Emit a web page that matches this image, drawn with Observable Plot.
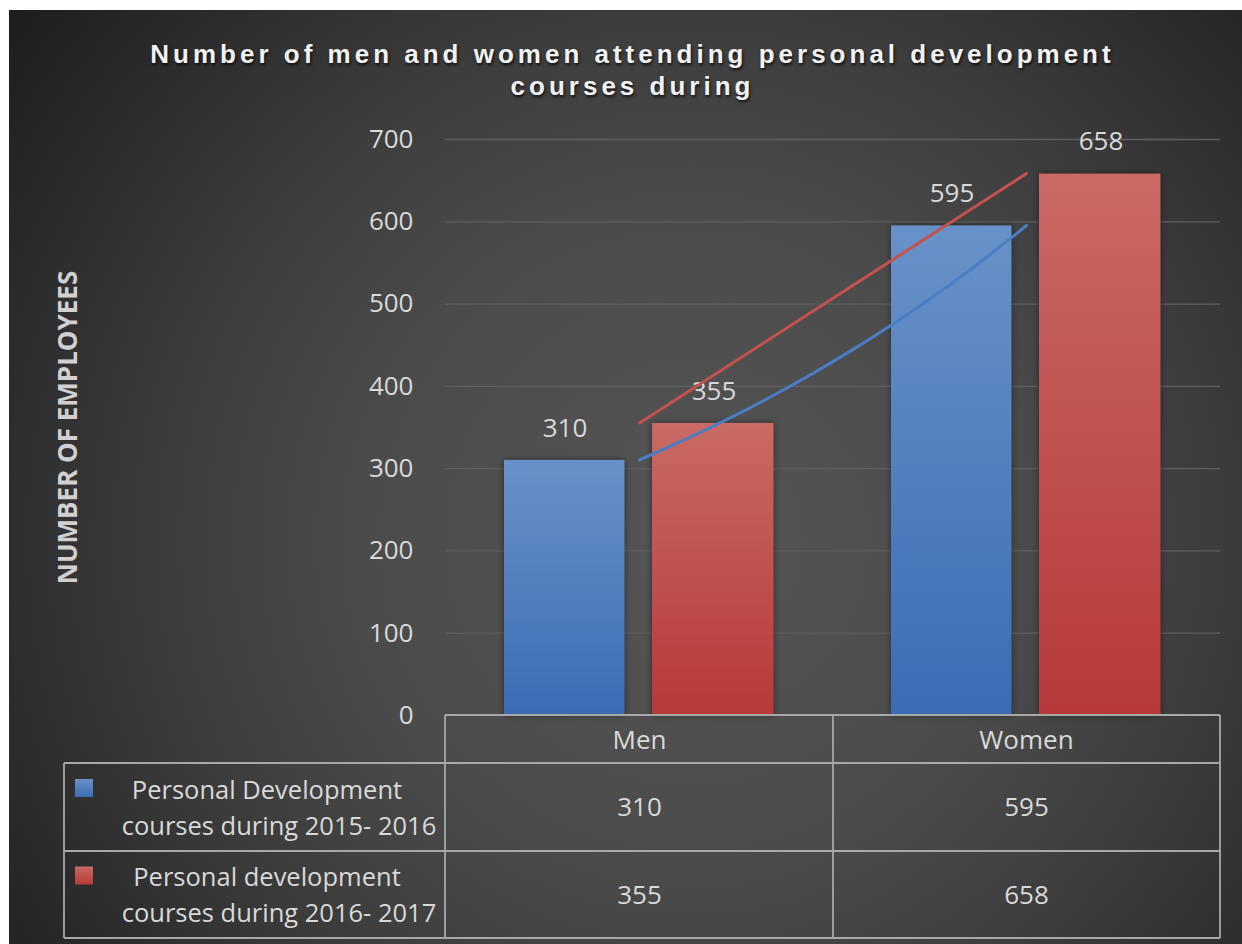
<!DOCTYPE html>
<html>
<head>
<meta charset="utf-8">
<script src="https://cdn.jsdelivr.net/npm/d3@7"></script>
<script src="https://cdn.jsdelivr.net/npm/@observablehq/plot@0.6"></script>
<style>
  body { margin: 0; background: #ffffff; }
  #wrap {
    position: absolute; left: 9px; top: 10px; width: 1233px; height: 934px; overflow: hidden;
    background: radial-gradient(circle farthest-corner at 681px 530px, #555555 0%, #4b4b4b 38%, #3d3d3d 60%, #2d2d2d 80%, #1d1d1d 100%);
  }
  #title {
    box-sizing: border-box; height: 100px; padding-top: 28px; padding-left: 14px; width: 100%;
    text-align: center; font: bold 26px "Liberation Sans", Arial, sans-serif; letter-spacing: 4px;
    line-height: 32px; color: #f2f2f2; text-shadow: 1px 2px 3px rgba(0,0,0,0.75);
  }
  #title span { display: inline-block; max-width: 1010px; }
  #chart svg { display: block; }
  #chart g[aria-label="bar"] rect { filter: drop-shadow(0px 0px 3px rgba(0,0,0,0.45)); }
</style>
</head>
<body>
<div id="wrap">
  <div id="title"><span>Number of men and women attending personal development courses during</span></div>
  <div id="chart"></div>
</div>
<script>
// ---- data ----
const categories = ["Men", "Women"];
const seriesNames = ["Personal Development courses during 2015- 2016", "Personal development courses during 2016- 2017"];
const legendLines = [["Personal Development", "courses during 2015- 2016"], ["Personal development", "courses during 2016- 2017"]];
const values2015 = [310, 595];
const values2016 = [355, 658];
const yTicks = [0, 100, 200, 300, 400, 500, 600, 700];
const yLabel = "NUMBER OF EMPLOYEES";
const titleText = "Number of men and women attending personal development courses during";

const rows = categories.map((c, i) => ({category: c, v2015: values2015[i], v2016: values2016[i]}));
const seriesValues = [values2015, values2016];

const BLUE_LINE = "#4a7ec4", RED_LINE = "#c4524f";
const TEXT = "#d9d9d9", BORDER = "#a8a8a8";

function defsMark() {
  const g = d3.create("svg:g");
  const defs = g.append("defs");
  const gb = defs.append("linearGradient").attr("id", "gBlue").attr("x1", 0).attr("y1", 0).attr("x2", 0).attr("y2", 1);
  gb.append("stop").attr("offset", "0%").attr("stop-color", "#6991c9");
  gb.append("stop").attr("offset", "100%").attr("stop-color", "#3b6db5");
  const gr = defs.append("linearGradient").attr("id", "gRed").attr("x1", 0).attr("y1", 0).attr("x2", 0).attr("y2", 1);
  gr.append("stop").attr("offset", "0%").attr("stop-color", "#c96a65");
  gr.append("stop").attr("offset", "100%").attr("stop-color", "#b73939");
  return g.node();
}

function trendMark(index, scales) {
  const x = scales.x, y = scales.y;
  const bw = x.bandwidth ? x.bandwidth() : 0;
  const cx = c => x(c) + bw / 2;
  const x0 = cx(categories[0]), x1 = cx(categories[1]);
  const g = d3.create("svg:g").attr("fill", "none").attr("stroke-width", 3).attr("stroke-linecap", "round");
  // exponential trendline for 2015-2016 series
  const [a, b] = values2015;
  const pts = d3.range(0, 1.0001, 0.025).map(t => [x0 + t * (x1 - x0), y(a * Math.pow(b / a, t))]);
  g.append("path").attr("d", d3.line()(pts)).attr("stroke", BLUE_LINE);
  // linear trendline for 2016-2017 series
  const [c, d] = values2016;
  g.append("path").attr("d", d3.line()([[x0, y(c)], [x1, y(d)]])).attr("stroke", RED_LINE);
  return g.node();
}

function tableMark(index, scales, values, dims) {
  const {width, height, marginLeft, marginRight, marginBottom} = dims;
  const x = scales.x;
  const bw = x.bandwidth();
  const left = marginLeft, right = width - marginRight;
  const top = height - marginBottom;
  const legendLeft = 55;
  const yRows = [top, top + 48, top + 136, top + 223];
  const g = d3.create("svg:g");
  const lines = g.append("g").attr("stroke", BORDER).attr("stroke-width", 1.8).attr("fill", "none");
  lines.append("line").attr("x1", left).attr("x2", right).attr("y1", yRows[0]).attr("y2", yRows[0]);
  for (let i = 1; i < 4; i++) lines.append("line").attr("x1", legendLeft).attr("x2", right).attr("y1", yRows[i]).attr("y2", yRows[i]);
  lines.append("line").attr("x1", legendLeft).attr("x2", legendLeft).attr("y1", yRows[1]).attr("y2", yRows[3]);
  const vx = [left, x(categories[1]), right];
  vx.forEach(v => lines.append("line").attr("x1", v).attr("x2", v).attr("y1", yRows[0]).attr("y2", yRows[3]));
  const txt = g.append("g").attr("fill", TEXT).attr("font-size", 26).attr("text-anchor", "middle");
  categories.forEach(cat => {
    txt.append("text").attr("x", x(cat) + bw / 2).attr("y", (yRows[0] + yRows[1]) / 2 + 1).attr("dy", "0.35em").text(cat);
  });
  const fills = ["url(#gBlue)", "url(#gRed)"];
  seriesValues.forEach((vals, si) => {
    const cy = (yRows[si + 1] + yRows[si + 2]) / 2;
    categories.forEach((cat, ci) => {
      txt.append("text").attr("x", x(cat) + bw / 2).attr("y", cy).attr("dy", "0.35em").text(String(vals[ci]));
    });
    g.append("rect").attr("x", legendLeft + 11).attr("y", cy - 28).attr("width", 18).attr("height", 18).attr("fill", fills[si]);
    const lineX = [258, 270];
    legendLines[si].forEach((ln, li) => {
      txt.append("text").attr("x", lineX[li]).attr("y", cy - 17 + li * 36).attr("dy", "0.35em").attr("font-size", 25.5).text(ln);
    });
  });
  return g.node();
}

const plot = Plot.plot({
  width: 1233,
  height: 834,
  marginTop: 29,
  marginBottom: 229,
  marginLeft: 436,
  marginRight: 22,
  style: {background: "transparent", color: TEXT, fontFamily: "'Open Sans', sans-serif", fontSize: "26px", overflow: "visible"},
  x: {type: "band", domain: categories, padding: 0, axis: null},
  y: {domain: [0, 700], axis: null},
  marks: [
    defsMark,
    Plot.ruleY(yTicks.filter(d => d > 0), {stroke: "#5f5f5f", strokeWidth: 1.3}),
    Plot.axisY({ticks: yTicks, tickSize: 0, tickPadding: 32, fontSize: 26, fill: TEXT, label: null, tickFormat: d => String(d)}),
    Plot.barY(rows, {x: "category", y: "v2015", fill: "url(#gBlue)", insetLeft: 58, insetRight: 208.5}),
    Plot.barY(rows, {x: "category", y: "v2016", fill: "url(#gRed)", insetLeft: 206, insetRight: 59.5}),
    Plot.text(rows, {x: "category", y: "v2015", text: d => String(d.v2015), dx: -75, dy: -32, fill: TEXT, fontSize: 26}),
    Plot.text(rows, {x: "category", y: "v2016", text: d => String(d.v2016), dx: 74, dy: -32, fill: TEXT, fontSize: 26}),
    trendMark,
    tableMark,
    Plot.text([yLabel], {frameAnchor: "left", textAnchor: "middle", text: d => d, rotate: -90, dx: -377, fill: "#d0d0d0", fontSize: 26, fontWeight: "bold"})
  ]
});
document.getElementById("chart").appendChild(plot);
</script>
</body>
</html>
